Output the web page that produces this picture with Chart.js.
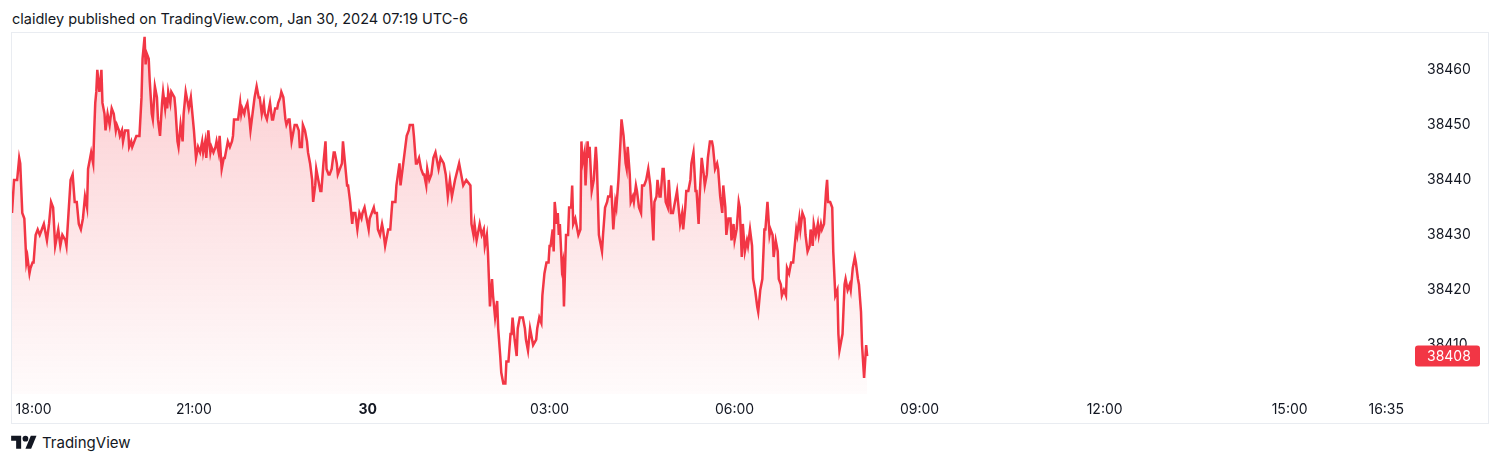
<!DOCTYPE html>
<html>
<head>
<meta charset="utf-8">
<script src="https://cdn.jsdelivr.net/npm/chart.js@4.4.1/dist/chart.umd.min.js"></script>
<style>
  html, body { margin: 0; padding: 0; background: #fff; }
  body { width: 1500px; height: 466px; position: relative; overflow: hidden; font-family: 'Inter', sans-serif; color: #131722; }
  .title { position: absolute; left: 12px; top: 10px; font-size: 14.5px; line-height: 17px; white-space: nowrap; }
  .frame { position: absolute; left: 11px; top: 32px; width: 1476px; height: 390px; border: 1px solid #e9ecf1; }
  .frame canvas { display: block; }
  .brand { position: absolute; left: 11px; top: 434px; height: 18px; display: flex; align-items: center; }
  .brand svg { display: block; margin-right: 5px; }
  .brand span { font-size: 15px; line-height: 18px; }
</style>
</head>
<body>
<div class="title">claidley published on TradingView.com, Jan 30, 2024 07:19 UTC-6</div>
<div class="frame"><canvas id="chart" width="1476" height="390"></canvas></div>
<div class="brand">
  <svg width="26" height="20" viewBox="0 0 36 28"><path d="M14 22H7V11H0V4h14v18z" fill="#131722"/><circle cx="20" cy="8" r="4" fill="#131722"/><path d="M28 22h-8l7.5-18h8L28 22z" fill="#131722"/></svg>
  <span>TradingView</span>
</div>
<script>
// ── DATA ──
// bar index (1-min bars, session gaps compressed) and close price
const bars = [
  0,2,5,7,8,10,12,14,15,17,18,20,21,23,25,27,29,31,33,34,
  36,38,40,42,43,45,47,49,52,53,55,57,59,61,63,65,67,69,71,73,
  74,76,77,79,80,81,82,83,85,87,88,90,91,93,95,97,99,101,102,104,
  105,107,108,110,113,114,116,117,119,121,124,126,127,129,130,131,133,134,136,137,
  139,141,142,144,146,147,149,150,151,152,154,155,158,159,161,162,164,166,167,169,
  171,172,174,175,177,179,181,183,185,186,188,189,191,193,194,196,198,199,201,202,
  204,206,207,209,210,212,214,215,216,219,220,222,223,224,226,227,229,231,232,234,
  236,238,240,241,243,245,246,248,249,251,253,254,256,258,259,261,262,264,266,267,
  269,270,272,274,275,277,279,280,282,283,285,287,288,290,292,293,295,296,298,300,
  301,303,305,306,308,309,311,313,314,316,317,319,321,322,324,326,327,329,331,332,
  334,336,338,340,341,343,345,347,348,352,353,355,356,358,360,361,363,365,366,368,
  370,373,374,377,378,380,382,384,386,387,390,391,393,394,396,398,400,401,403,404,
  406,408,410,412,415,417,420,422,424,426,428,431,435,439,442,446,447,449,450,452,
  454,455,457,459,460,462,463,465,467,468,470,472,473,475,476,478,480,481,483,485,
  486,487,489,491,492,494,497,499,500,502,504,506,507,510,511,513,515,516,518,520,
  522,523,524,526,527,528,530,531,532,533,535,536,537,539,541,542,544,545,546,548,
  549,551,553,554,555,557,558,560,561,562,564,566,568,569,571,572,574,575,577,579,
  580,582,583,585,587,588,590,592,593,595,597,598,599,601,602,604,605,607,608,610,
  612,613,615,617,619,621,622,624,625,627,628,630,631,633,634,636,638,639,641,643,
  645,647,648,650,652,653,655,656,658,660,661,663,665,666,668,669,671,673,674,676,
  677,679,681,682,684,686,687,689,691,692,694,695,697,699,700,702,703,705,707,708,
  710,711,713,715,716,718,720,721,723,725,726,728,730,732,733,735,737,738,740,741,
  743,745,746,748,749,751,753,754,756,758,760,761,763,764,766,767,769,771,772,774,
  776,777,779,780,782,784,785,787,788,790,792,793,794,796,798,799,801,803,804,805,
  807,808,810,811,813,815,816,818,820,821,823,824,826,827,829,831,832
];
const prices = [
  38434,38440,38440,38444,38443,38434,38433,38425,38426,38423,38424,38425,38425,38430,38431,38430,38431,38432,38430,38429,
  38432,38436,38435,38428,38429,38431,38428,38430,38429,38428,38434,38440,38441,38436,38436,38432,38431,38433,38437,38435,
  38442,38444,38445,38443,38449,38454,38456,38460,38456,38460,38454,38452,38449,38452,38450,38453,38452,38449,38450,38449,
  38448,38449,38447,38449,38449,38446,38447,38446,38447,38448,38448,38455,38462,38466,38461,38463,38462,38458,38452,38451,
  38457,38455,38451,38448,38454,38456,38453,38455,38453,38456,38454,38456,38455,38453,38447,38446,38450,38447,38452,38456,
  38454,38453,38455,38453,38449,38444,38446,38445,38447,38445,38447,38444,38449,38445,38446,38445,38446,38447,38445,38448,
  38442,38444,38444,38446,38447,38446,38447,38448,38451,38451,38451,38454,38452,38453,38452,38453,38454,38451,38449,38452,
  38455,38457,38455,38455,38452,38454,38452,38451,38452,38454,38451,38451,38453,38453,38454,38455,38456,38455,38451,38450,
  38451,38451,38447,38449,38450,38450,38449,38446,38446,38450,38449,38447,38445,38443,38440,38436,38439,38442,38440,38438,
  38438,38443,38447,38442,38441,38441,38442,38445,38445,38443,38441,38442,38443,38447,38443,38439,38439,38436,38432,38434,
  38434,38431,38434,38433,38434,38435,38433,38431,38433,38435,38434,38434,38431,38430,38432,38431,38428,38430,38431,38431,
  38436,38436,38439,38443,38439,38442,38445,38448,38449,38450,38450,38448,38443,38443,38444,38442,38441,38441,38439,38442,
  38440,38441,38444,38445,38442,38444,38443,38441,38437,38440,38437,38440,38443,38439,38440,38439,38432,38430,38432,38429,
  38431,38432,38430,38431,38428,38430,38427,38417,38422,38419,38415,38418,38413,38408,38405,38403,38403,38407,38407,38412,
  38412,38415,38411,38408,38413,38415,38415,38413,38411,38409,38413,38411,38410,38411,38413,38415,38414,38419,38423,38425,
  38425,38428,38428,38431,38427,38436,38432,38434,38430,38432,38424,38425,38417,38430,38430,38435,38435,38439,38432,38433,
  38432,38430,38431,38447,38443,38445,38439,38447,38444,38446,38438,38440,38446,38443,38430,38429,38427,38430,38435,38436,
  38437,38437,38439,38431,38436,38435,38440,38447,38451,38448,38443,38442,38446,38441,38436,38437,38436,38439,38438,38435,
  38434,38439,38439,38440,38442,38439,38436,38429,38436,38437,38440,38437,38437,38442,38442,38436,38435,38440,38434,38434,
  38436,38438,38436,38432,38434,38431,38435,38438,38438,38440,38443,38445,38438,38438,38432,38437,38444,38441,38439,38441,
  38444,38447,38447,38446,38442,38443,38442,38437,38434,38439,38435,38430,38433,38433,38429,38432,38429,38431,38436,38435,
  38426,38432,38427,38429,38428,38431,38428,38422,38420,38417,38416,38420,38422,38431,38431,38436,38430,38431,38430,38426,
  38429,38427,38422,38421,38419,38420,38419,38424,38423,38425,38425,38427,38431,38430,38433,38431,38434,38433,38430,38427,
  38428,38431,38428,38432,38430,38432,38430,38432,38431,38432,38438,38440,38436,38436,38435,38427,38419,38420,38412,38409,
  38411,38412,38421,38422,38420,38421,38420,38424,38426,38425,38422,38421,38416,38410,38404,38410,38408
];
const tickBars = [21, 177, 346, 523, 703, 883, 1063, 1243, 1337];
const tickLabels = ['18:00', '21:00', '30', '03:00', '06:00', '09:00', '12:00', '15:00', '16:35'];
const priceTicks = [38410, 38420, 38430, 38440, 38450, 38460];

const RED = '#f23645';
const TEXT = '#131722';

Chart.defaults.font.family = "'Inter', sans-serif";
Chart.defaults.color = TEXT;

// last price badge on the price scale
const lastPrice = {
    id: 'lastPrice',
    afterDraw(chart) {
        const { ctx, chartArea, scales } = chart;
        const v = prices[prices.length - 1];
        const py = scales.y.getPixelForValue(v);
        ctx.save();
        ctx.fillStyle = RED;
        ctx.beginPath();
        ctx.roundRect(chartArea.right + 1, py - 10.5, 65, 21, 3);
        ctx.fill();
        ctx.fillStyle = '#fff';
        ctx.font = "14px 'Inter', sans-serif";
        ctx.textBaseline = 'middle';
        ctx.textAlign = 'left';
        ctx.fillText(String(v), chartArea.right + 13, py + 0.5);
        ctx.restore();
    }
};

new Chart(document.getElementById('chart'), {
    type: 'line',
    data: {
        datasets: [{
            data: bars.map((b, i) => ({ x: b, y: prices[i] })),
            borderColor: RED,
            borderWidth: 2.5,
            pointRadius: 0,
            tension: 0,
            fill: 'start',
            backgroundColor: c => {
                const a = c.chart.chartArea;
                if (!a) return 'rgba(242,54,69,0.12)';
                const g = c.chart.ctx.createLinearGradient(0, a.top, 0, a.bottom);
                g.addColorStop(0, 'rgba(242,54,69,0.26)');
                g.addColorStop(1, 'rgba(242,54,69,0.02)');
                return g;
            }
        }]
    },
    options: {
        responsive: false,
        animation: false,
        layout: { padding: 0 },
        plugins: { legend: { display: false }, tooltip: { enabled: false } },
        scales: {
            x: {
                type: 'linear',
                min: 0, max: 1364,
                grid: { display: false, drawTicks: false },
                border: { display: false },
                afterBuildTicks: s => { s.ticks = tickBars.map(v => ({ value: v })); },
                afterFit: s => { s.height = 29; s.paddingLeft = 0; s.paddingRight = 0; },
                ticks: {
                    autoSkip: false, maxRotation: 0, padding: 7, color: TEXT,
                    font: c => ({ size: 14, weight: c.index === 2 ? 'bold' : 'normal' }),
                    callback: (v, i) => tickLabels[i]
                }
            },
            y: {
                position: 'right',
                min: 38401.1, max: 38466.7,
                grid: { display: false, drawTicks: false },
                border: { display: false },
                afterBuildTicks: s => { s.ticks = priceTicks.map(v => ({ value: v })); },
                afterFit: s => { s.width = 74; s.paddingTop = 0; s.paddingBottom = 0; },
                ticks: { padding: 13, color: TEXT, font: { size: 14 }, callback: v => String(v) }
            }
        }
    },
    plugins: [lastPrice]
});
</script>
</body>
</html>
